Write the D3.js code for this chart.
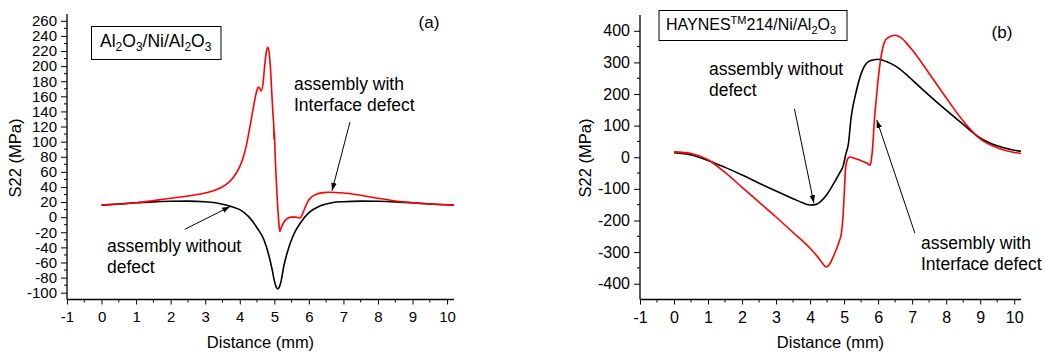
<!DOCTYPE html>
<html>
<head>
<meta charset="utf-8">
<script src="https://cdn.jsdelivr.net/npm/d3@7"></script>
<style>
  html, body { margin: 0; padding: 0; background: #fff; }
  svg { display: block; font-family: "Liberation Sans", Arial, sans-serif; }
</style>
</head>
<body>
<svg id="chart" width="1045" height="354"></svg>
<script>
// ---------------- DATA ----------------
// Panel (a): Al2O3/Ni/Al2O3
const aNoDefect = [
  [0,16],[0.5,17.5],[1,19],[1.5,20.3],[2,21],[2.5,21.3],[3,20.5],[3.3,19],[3.6,16],[3.8,13.5],
  [4.0,10],[4.25,1],[4.5,-14],[4.7,-30],[4.85,-52],[4.94,-70],[5.0,-84],[5.05,-92],[5.1,-95],
  [5.15,-92],[5.2,-84],[5.27,-66],[5.36,-49],[5.56,-23],[5.75,-8],[6.0,6],[6.33,15],[6.7,19.5],
  [7,20.5],[7.5,21.2],[8,21],[8.5,20.3],[9,19],[9.5,17.5],[10.2,16]
];
const aDefect = [
  [0,16],[1,19],[2,25],[2.5,28],[3,32],[3.3,36],[3.6,43],[3.8,52],[4.0,67],[4.1,79],[4.2,97],
  [4.3,121],[4.4,147],[4.48,165],[4.53,172],[4.57,171],[4.62,167],[4.67,176],[4.72,200],
  [4.77,219],[4.81,225],[4.85,218],[4.89,196],[4.93,162],[4.97,130],[4.985,121],[4.99,103],
  [4.995,116],[5.03,75],[5.07,36],[5.1,12],[5.13,-7],[5.16,-19],[5.2,-14],[5.3,-5],[5.4,-1],
  [5.5,0],[5.62,0],[5.72,-1],[5.77,0],[5.83,6],[5.92,16],[6.0,23],[6.1,27.5],[6.2,30],
  [6.4,32.5],[6.6,33],[7,32],[7.5,29],[8,25],[8.5,21.5],[9,19],[9.5,17.5],[10.2,16]
];
// Panel (b): HAYNES(TM)214/Ni/Al2O3
const bNoDefect = [
  [0,14],[0.5,7],[1,-10],[1.5,-32],[2,-56],[2.5,-82],[3,-107],[3.5,-131],[3.8,-145],[4.0,-151],
  [4.15,-150],[4.3,-141],[4.5,-117],[4.7,-82],[4.85,-53],[4.98,-25],[5.05,10],[5.13,45],
  [5.2,120],[5.23,143],[5.32,191],[5.52,270],[5.76,305],[6.0,310],[6.26,302],[6.5,289],
  [6.89,256],[7,245],[7.5,196],[8,149],[8.5,104],[9,61],[9.5,36],[10,22],[10.2,19]
];
const bDefect = [
  [0,17],[0.5,12],[1,-8],[1.5,-48],[2,-95],[2.5,-142],[3,-189],[3.5,-238],[4.0,-288],
  [4.2,-312],[4.35,-333],[4.47,-347],[4.55,-342],[4.7,-310],[4.85,-268],[4.92,-240],
  [4.97,-185],[5.0,-125],[5.04,-40],[5.09,-9],[5.16,1],[5.3,-3],[5.5,-11],[5.68,-19],
  [5.76,-25],[5.8,-8],[5.84,33],[5.89,117],[5.96,201],[6.03,275],[6.11,333],[6.26,376],
  [6.5,386],[6.65,380],[6.89,354],[7,340],[7.5,265],[8,188],[8.5,115],[9,58],[9.5,30],
  [10,15],[10.2,12]
];

const xTicks = [-1,0,1,2,3,4,5,6,7,8,9,10];
const xMinor = [-0.5,0.5,1.5,2.5,3.5,4.5,5.5,6.5,7.5,8.5,9.5];
const aYTicks = [-100,-80,-60,-40,-20,0,20,40,60,80,100,120,140,160,180,200,220,240,260];
const aYMinor = [-90,-70,-50,-30,-10,10,30,50,70,90,110,130,150,170,190,210,230,250];
const bYTicks = [-400,-300,-200,-100,0,100,200,300,400];
const bYMinor = [-350,-250,-150,-50,50,150,250,350];

// annotation arrows in data coordinates: [tail, tip]
const aArrows = [ [[7.19,126],[6.67,35]], [[2.41,-16],[3.72,14]] ];
const bArrows = [ [[3.54,153],[4.11,-145]], [[7.08,-240],[5.96,118]] ];

// ---------------- DRAW ----------------
const svg = d3.select("#chart");
const defs = svg.append("defs");
defs.append("marker").attr("id","ah").attr("viewBox","0 0 10 10")
  .attr("refX",10).attr("refY",5).attr("markerWidth",8).attr("markerHeight",8)
  .attr("markerUnits","userSpaceOnUse").attr("orient","auto")
  .append("path").attr("d","M0,1.5L10,5L0,8.5Z").attr("fill","#000");

const fmt = d => String(d);

function panel(cfg) {
  const x = d3.scaleLinear().domain([-1,10.2]).range(cfg.xr);
  const y = d3.scaleLinear().domain(cfg.yd).range([299.5, cfg.ytop]);
  const g = svg.append("g");

  const xAxis = d3.axisBottom(x).tickValues(xTicks).tickSize(5).tickPadding(7).tickFormat(fmt);
  const gx = g.append("g").attr("transform",`translate(0,${y.range()[0]})`).call(xAxis);
  gx.append("g").selectAll("line").data(xMinor).join("line")
    .attr("x1",d=>x(d)).attr("x2",d=>x(d)).attr("y1",0).attr("y2",3).attr("stroke","#000");
  const yAxis = d3.axisLeft(y).tickValues(cfg.yTicks).tickSize(6).tickPadding(4).tickFormat(fmt);
  const gy = g.append("g").attr("transform",`translate(${x.range()[0]},0)`).call(yAxis);
  gy.append("g").selectAll("line").data(cfg.yMinor).join("line")
    .attr("y1",d=>y(d)).attr("y2",d=>y(d)).attr("x1",0).attr("x2",-3).attr("stroke","#000");
  [gx,gy].forEach(a=>{
    a.select(".domain").attr("stroke","#000").attr("stroke-width",1.3);
    a.selectAll(".tick line").attr("stroke","#000");
    a.selectAll("text").attr("font-family","Liberation Sans, Arial, sans-serif")
      .attr("font-size",cfg.tickFs).attr("fill","#000");
  });
  gx.selectAll(".tick text").attr("dy","0.71em");
  gx.select(".domain").attr("d",`M${x.range()[0]},0H${x.range()[1]}`);
  gy.select(".domain").attr("d",`M0,${y.range()[0]}V${y.range()[1]}`);

  const line = d3.line().x(d=>x(d[0])).y(d=>y(d[1])).curve(d3.curveMonotoneX);
  g.append("path").datum(cfg.noDef).attr("d",line).attr("fill","none")
    .attr("stroke","#000").attr("stroke-width",1.6);
  g.append("path").datum(cfg.def).attr("d",line).attr("fill","none")
    .attr("stroke","#ff0000").attr("stroke-width",1.6);

  g.append("text").attr("x",(x.range()[0]+x.range()[1])/2).attr("y",348)
    .attr("text-anchor","middle").attr("font-size",16.5).text("Distance (mm)");
  g.append("text").attr("transform",`translate(${cfg.ytx},158) rotate(-90)`)
    .attr("text-anchor","middle").attr("font-size",16.5).text("S22 (MPa)");

  cfg.arrows.forEach(([t,h])=>{
    g.append("line").attr("x1",x(t[0])).attr("y1",y(t[1])).attr("x2",x(h[0])).attr("y2",y(h[1]))
      .attr("stroke","#000").attr("stroke-width",1).attr("marker-end","url(#ah)");
  });
  return {x,y,g};
}

panel({xr:[67,454], yd:[-109,269], ytop:14, yTicks:aYTicks, yMinor:aYMinor,
  tickFs:15, noDef:aNoDefect, def:aDefect, arrows:aArrows, ytx:21});
panel({xr:[640,1021], yd:[-450,450], ytop:15, yTicks:bYTicks, yMinor:bYMinor,
  tickFs:16, noDef:bNoDefect, def:bDefect, arrows:bArrows, ytx:591});

function multi(x, y, lines, fs) {
  const t = svg.append("text").attr("font-size",fs).attr("fill","#000");
  lines.forEach((l,i)=>t.append("tspan").attr("x",x).attr("y",y+i*21).text(l));
}
multi(294, 90, ["assembly with","Interface defect"], 17.5);
multi(107, 251.5, ["assembly without","defect"], 17.5);
multi(709, 75, ["assembly without","defect"], 17.5);
multi(921, 248.5, ["assembly with","Interface defect"], 17.5);

svg.append("text").attr("x",429).attr("y",28).attr("text-anchor","middle").attr("font-size",17).text("(a)");
svg.append("text").attr("x",1002).attr("y",37.5).attr("text-anchor","middle").attr("font-size",17).text("(b)");

svg.append("rect").attr("x",91.5).attr("y",26.5).attr("width",129.5).attr("height",33)
  .attr("fill","#fff").attr("stroke","#000").attr("stroke-width",1);
const ta = svg.append("text").attr("x",100).attr("y",47).attr("font-size",17.5);
ta.append("tspan").text("Al");
ta.append("tspan").attr("font-size",12).attr("dy",4).text("2");
ta.append("tspan").attr("dy",-4).text("O");
ta.append("tspan").attr("font-size",12).attr("dy",4).text("3");
ta.append("tspan").attr("dy",-4).text("/Ni/Al");
ta.append("tspan").attr("font-size",12).attr("dy",4).text("2");
ta.append("tspan").attr("dy",-4).text("O");
ta.append("tspan").attr("font-size",12).attr("dy",4).text("3");

svg.append("rect").attr("x",659).attr("y",10.5).attr("width",188).attr("height",30)
  .attr("fill","#fff").attr("stroke","#000").attr("stroke-width",1);
const tb = svg.append("text").attr("x",666).attr("y",30).attr("font-size",16);
tb.append("tspan").text("HAYNES");
tb.append("tspan").attr("font-size",11).attr("dy",-6).text("TM");
tb.append("tspan").attr("dy",6).text("214/Ni/Al");
tb.append("tspan").attr("font-size",11).attr("dy",4).text("2");
tb.append("tspan").attr("dy",-4).text("O");
tb.append("tspan").attr("font-size",11).attr("dy",4).text("3");
</script>
</body>
</html>
